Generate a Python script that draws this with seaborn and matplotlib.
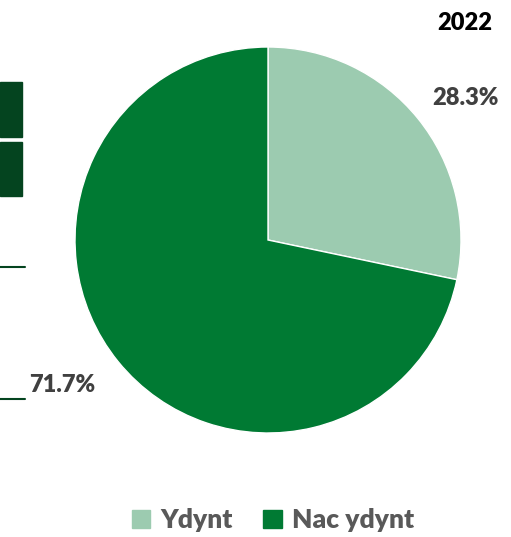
import matplotlib
matplotlib.use("Agg")
import matplotlib.pyplot as plt
import seaborn as sns
from matplotlib.patches import Rectangle

# data
categories = ["Ydynt", "Nac ydynt"]
values = [28.3, 71.7]
value_labels = ["28.3%", "71.7%"]
year = "2022"
colors = ["#9ccbb0", "#007a33"]

sns.set_theme(style="white")
plt.rcParams['font.family'] = ['Lato', 'DejaVu Sans']

W, H = 511, 537
fig = plt.figure(figsize=(W / 100, H / 100), dpi=100)

# pie axes: center ~(268, 240) px, radius ~193 px
cx, cy, r = 268, 240, 193
ax = fig.add_axes([(cx - r) / W, (H - cy - r) / H, 2 * r / W, 2 * r / H])
wedges, _ = ax.pie(values, colors=colors, startangle=90, counterclock=False,
                   wedgeprops=dict(linewidth=1, edgecolor="white"))
ax.set_xlim(-1, 1)
ax.set_ylim(-1, 1)
ax.set_aspect("equal")

# labels
fig.text(465 / W, 1 - 98 / H, value_labels[0], ha="center", va="center",
         fontsize=17, fontweight="heavy", color="#404040")
fig.text(62 / W, 1 - 385 / H, value_labels[1], ha="center", va="center",
         fontsize=17, fontweight="heavy", color="#404040")
fig.text(465 / W, 1 - 23 / H, year, ha="center", va="center",
         fontsize=17, fontweight="heavy", color="black")

# leftover shapes on the left edge
fig.patches.append(Rectangle((0, 1 - 137 / H), 22 / W, 55 / H, transform=fig.transFigure,
                             color="#04441f", zorder=0))
fig.patches.append(Rectangle((0, 1 - 196 / H), 22 / W, 54 / H, transform=fig.transFigure,
                             color="#04441f", zorder=0))
for yy in (267, 399):
    fig.lines.append(plt.Line2D([0, 25 / W], [1 - yy / H] * 2, transform=fig.transFigure,
                                color="#04441f", linewidth=1.5))

# legend
handles = [Rectangle((0, 0), 1, 1, color=c) for c in colors]
leg = fig.legend(handles, categories, loc="center", bbox_to_anchor=(273 / W, 1 - 520 / H),
                 ncol=2, frameon=False, handlelength=0.7, handleheight=0.7,
                 handletextpad=0.4, columnspacing=1.15,
                 prop=dict(size=19, weight="heavy"))
for t in leg.get_texts():
    t.set_color("#595959")

fig.savefig("out.png", dpi=100)
